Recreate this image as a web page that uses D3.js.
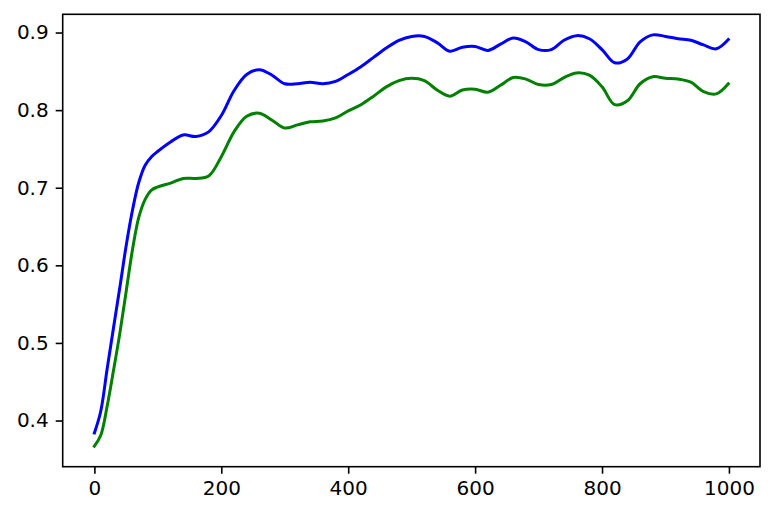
<!DOCTYPE html>
<html>
<head>
<meta charset="utf-8">
<script src="https://cdn.jsdelivr.net/npm/d3@7"></script>
<style>
  html, body { margin: 0; padding: 0; background: #fff; }
  svg { display: block; }
  .axis text { font-family: "DejaVu Sans", sans-serif; font-size: 20px; fill: #000; }
</style>
</head>
<body>
<svg id="chart" width="775" height="517"></svg>
<script>
// ---- data ----
const steps = [0,10,20,30,40,50,60,70,80,90,100,120,140,160,180,200,220,240,260,280,300,320,340,360,380,
               400,420,440,460,480,500,520,540,560,580,600,620,640,660,680,700,720,740,760,780,
               800,820,840,860,880,900,920,940,960,980,999];
const blueSeries = [0.384,0.412,0.466,0.519,0.571,0.625,0.671,0.707,0.729,0.740,0.747,0.759,0.768,0.766,0.772,0.793,0.825,0.846,0.852,0.845,0.834,0.834,0.836,0.834,0.837,
                    0.846,0.856,0.868,0.880,0.890,0.895,0.895,0.887,0.876,0.881,0.882,0.877,0.885,0.893,0.888,0.878,0.878,0.890,0.896,0.892,
                    0.878,0.861,0.866,0.888,0.897,0.895,0.892,0.890,0.884,0.879,0.891];
const greenSeries = [0.367,0.381,0.418,0.464,0.512,0.566,0.620,0.662,0.685,0.697,0.701,0.706,0.712,0.712,0.715,0.740,0.772,0.792,0.796,0.787,0.777,0.781,0.785,0.786,0.790,
                     0.799,0.807,0.818,0.830,0.838,0.841,0.838,0.826,0.818,0.826,0.827,0.823,0.832,0.842,0.840,0.833,0.833,0.842,0.848,0.845,
                     0.830,0.807,0.812,0.834,0.843,0.841,0.840,0.836,0.824,0.821,0.834];
const xTicks = [0,200,400,600,800,1000];
const yTicks = [0.4,0.5,0.6,0.7,0.8,0.9];
const yTickLabels = ["0.4","0.5","0.6","0.7","0.8","0.9"];
const seriesColors = ["#0000ff", "#008000"];

// ---- layout ----
const plotLeft = 62.7, plotRight = 760, plotTop = 14.3, plotBottom = 466.7;
const svg = d3.select("#chart");

const xMin = d3.min(steps), xMax = d3.max(steps);
const xPad = (xMax - xMin) * 0.05;
const allY = blueSeries.concat(greenSeries);
const yMin = d3.min(allY), yMax = d3.max(allY);
const yPad = (yMax - yMin) * 0.05;

const x = d3.scaleLinear().domain([xMin - xPad, xMax + xPad]).range([plotLeft, plotRight]);
const y = d3.scaleLinear().domain([yMin - yPad, yMax + yPad]).range([plotBottom, plotTop]);

const line = d3.line()
  .x((d, i) => x(steps[i]))
  .y(d => y(d))
  .curve(d3.curveCatmullRom.alpha(0.5));

const plot = svg.append("g");
[blueSeries, greenSeries].forEach((s, k) => {
  plot.append("path")
    .datum(s)
    .attr("fill", "none")
    .attr("stroke", seriesColors[k])
    .attr("stroke-width", 3)
    .attr("stroke-linejoin", "round")
    .attr("stroke-linecap", "square")
    .attr("d", line);
});

// axes
const xAxis = d3.axisBottom(x).tickValues(xTicks).tickSize(7).tickPadding(7).tickFormat(d3.format("d"));
const yAxis = d3.axisLeft(y).tickValues(yTicks).tickSize(7).tickPadding(7).tickFormat((d, i) => yTickLabels[i]);

const gx = svg.append("g").attr("class", "axis").attr("transform", `translate(0,${plotBottom})`).call(xAxis);
const gy = svg.append("g").attr("class", "axis").attr("transform", `translate(${plotLeft},0)`).call(yAxis);
[gx, gy].forEach(g => {
  g.select(".domain").remove();
  g.selectAll(".tick line").attr("stroke", "#000").attr("stroke-width", 1.6);
  g.selectAll(".tick text").attr("fill", "#000");
});

// frame (spines)
svg.append("rect")
  .attr("x", plotLeft).attr("y", plotTop)
  .attr("width", plotRight - plotLeft).attr("height", plotBottom - plotTop)
  .attr("fill", "none").attr("stroke", "#000").attr("stroke-width", 1.6);
</script>
</body>
</html>
